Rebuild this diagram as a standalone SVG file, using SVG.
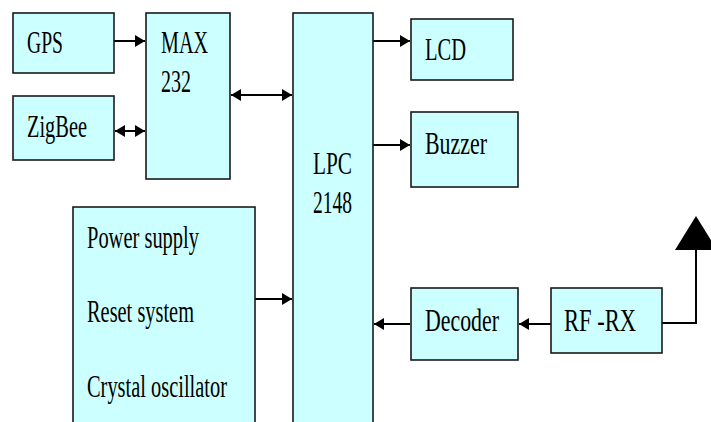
<svg xmlns="http://www.w3.org/2000/svg" width="711" height="422" viewBox="0 0 711 422">
<defs>
<style>
.box{fill:#CCFFFF;stroke:#1a1a1a;stroke-width:1.6}
.c{stroke:#000;stroke-width:2;fill:none}
</style>
<marker id="ah" markerUnits="userSpaceOnUse" viewBox="0 0 10 12" refX="10" refY="6" markerWidth="10" markerHeight="12" orient="auto-start-reverse">
<path d="M0,0 L10,6 L0,12 z" fill="#000"/>
</marker>
</defs>
<rect width="711" height="422" fill="#fff"/>
<g id="connectors">
<line class="c" x1="114" y1="41" x2="145" y2="41" marker-end="url(#ah)"/>
<line class="c" x1="115" y1="131" x2="145" y2="131" marker-start="url(#ah)" marker-end="url(#ah)"/>
<line class="c" x1="231" y1="95" x2="292" y2="95" marker-start="url(#ah)" marker-end="url(#ah)"/>
<line class="c" x1="373" y1="41" x2="410" y2="41" marker-end="url(#ah)"/>
<line class="c" x1="373" y1="145" x2="410" y2="145" marker-end="url(#ah)"/>
<line class="c" x1="255" y1="299" x2="292" y2="299" marker-end="url(#ah)"/>
<line class="c" x1="410" y1="324" x2="374" y2="324" marker-end="url(#ah)"/>
<line class="c" x1="551" y1="324" x2="519" y2="324" marker-end="url(#ah)"/>
<polyline class="c" points="662,323 696,323 696,249"/>
<polygon points="696,216 675,250 717,250" fill="#000"/>
</g>
<g font-family="Liberation Serif, Times New Roman, serif" font-size="31" fill="#000">
<g id="gps">
<rect class="box" x="13" y="13" width="101" height="60"/>
<text x="27" y="53" textLength="36" lengthAdjust="spacingAndGlyphs">GPS</text>
</g>
<g id="zigbee">
<rect class="box" x="13" y="96" width="101" height="64"/>
<text x="27" y="137" textLength="60" lengthAdjust="spacingAndGlyphs">ZigBee</text>
</g>
<g id="max232">
<rect class="box" x="146" y="13" width="84" height="166"/>
<text x="161" y="53" textLength="47" lengthAdjust="spacingAndGlyphs">MAX</text>
<text x="161" y="92" textLength="30" lengthAdjust="spacingAndGlyphs">232</text>
</g>
<g id="lpc2148">
<rect class="box" x="293" y="13" width="80" height="420"/>
<text x="313" y="174" textLength="39" lengthAdjust="spacingAndGlyphs">LPC</text>
<text x="313" y="213" textLength="39" lengthAdjust="spacingAndGlyphs">2148</text>
</g>
<g id="power">
<rect class="box" x="73" y="207" width="182" height="230"/>
<text x="87" y="248" textLength="112" lengthAdjust="spacingAndGlyphs">Power supply</text>
<text x="87" y="322" textLength="107" lengthAdjust="spacingAndGlyphs">Reset system</text>
<text x="87" y="397" textLength="140" lengthAdjust="spacingAndGlyphs">Crystal oscillator</text>
</g>
<g id="lcd">
<rect class="box" x="411" y="19" width="102" height="61"/>
<text x="425" y="60" textLength="41" lengthAdjust="spacingAndGlyphs">LCD</text>
</g>
<g id="buzzer">
<rect class="box" x="411" y="112" width="107" height="75"/>
<text x="425" y="154" textLength="62" lengthAdjust="spacingAndGlyphs">Buzzer</text>
</g>
<g id="decoder">
<rect class="box" x="411" y="288" width="107" height="72"/>
<text x="425" y="331" textLength="74" lengthAdjust="spacingAndGlyphs">Decoder</text>
</g>
<g id="rfrx">
<rect class="box" x="551" y="288" width="111" height="65"/>
<text x="564" y="331" textLength="72" lengthAdjust="spacingAndGlyphs">RF -RX</text>
</g>
</g>
</svg>
